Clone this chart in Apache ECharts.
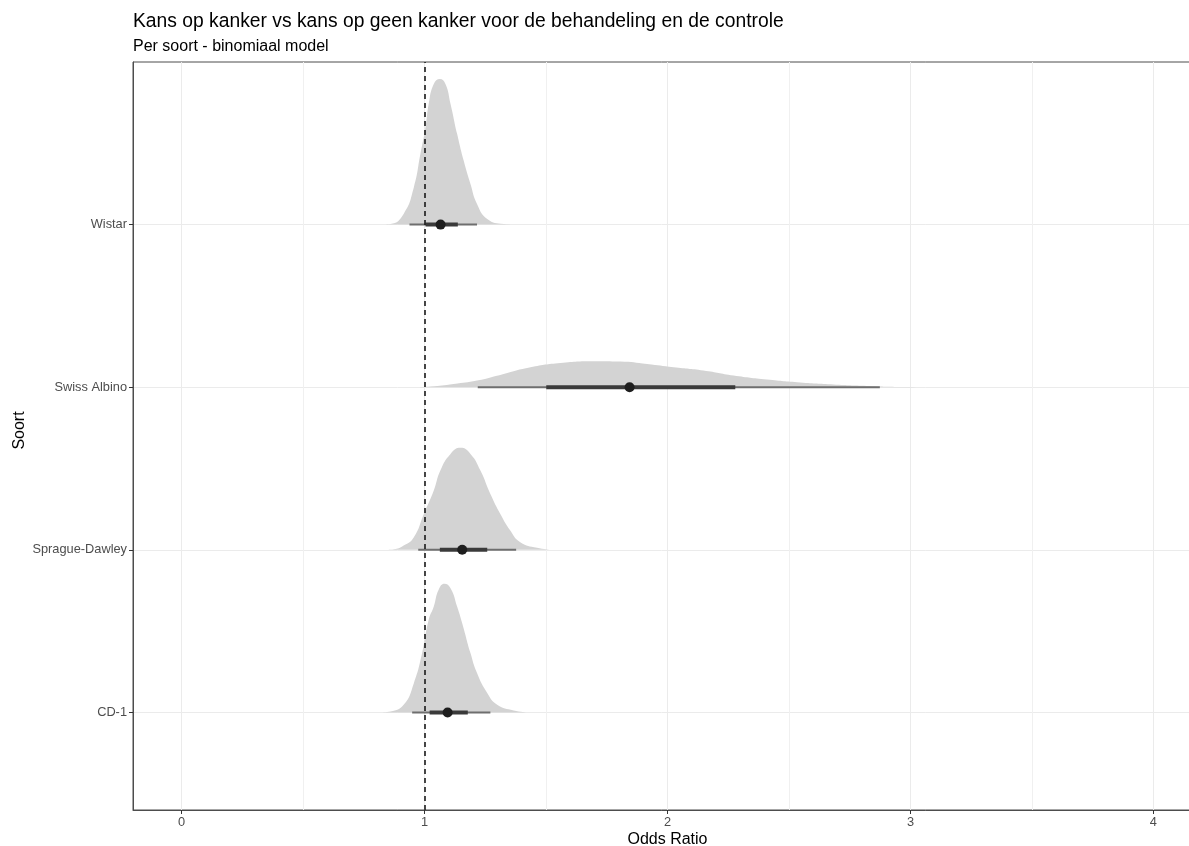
<!DOCTYPE html>
<html><head><meta charset="utf-8">
<script src="https://cdn.jsdelivr.net/npm/echarts@6/dist/echarts.min.js"></script>
<style>html,body{margin:0;padding:0;background:#fff}#c{width:1189px;height:846px}</style>
</head><body><div id="c"></div>
<script>
// Categories (bottom to top) and tick values
const strains = ['CD-1', 'Sprague-Dawley', 'Swiss Albino', 'Wistar'];
const strainPos = [1, 2, 3, 4];
const xTicks = [0, 1, 2, 3, 4];
const xMinorTicks = [0.5, 1.5, 2.5, 3.5];
const refLine = 1;

// Posterior density of the odds ratio per strain (x = OR, h = slab height)
const cd1X = [0.82, 0.860, 0.914, 0.956, 0.990, 1.017, 1.038, 1.058, 1.082, 1.107, 1.134, 1.155, 1.189, 1.216, 1.258, 1.299, 1.367, 1.422];
const cd1H = [0, 0.006, 0.047, 0.180, 0.365, 0.570, 0.652, 0.755, 0.792, 0.764, 0.652, 0.549, 0.365, 0.242, 0.119, 0.047, 0.012, 0];
const sdX = [0.84, 0.873, 0.914, 0.956, 0.997, 1.038, 1.065, 1.107, 1.148, 1.189, 1.230, 1.271, 1.312, 1.353, 1.394, 1.463, 1.518];
const sdH = [0, 0.003, 0.026, 0.078, 0.221, 0.365, 0.488, 0.590, 0.627, 0.590, 0.488, 0.344, 0.221, 0.119, 0.047, 0.012, 0];
const swissX = [0.98, 1.024, 1.120, 1.216, 1.326, 1.436, 1.559, 1.696, 1.806, 1.916, 2.025, 2.148, 2.272, 2.409, 2.546, 2.683, 2.821, 2.958, 3.204];
const swissH = [0, 0.004, 0.020, 0.041, 0.082, 0.123, 0.149, 0.160, 0.158, 0.143, 0.123, 0.103, 0.072, 0.047, 0.029, 0.017, 0.008, 0.002, 0];
const wistarX = [0.82, 0.860, 0.914, 0.956, 0.983, 1.004, 1.017, 1.038, 1.063, 1.086, 1.107, 1.134, 1.161, 1.189, 1.216, 1.258, 1.326, 1.38];
const wistarH = [0, 0.004, 0.066, 0.229, 0.435, 0.598, 0.742, 0.865, 0.896, 0.865, 0.742, 0.558, 0.394, 0.250, 0.127, 0.035, 0.004, 0];

// Point estimate and intervals (66% thick, 95% thin), order = strains
const pointEst = [1.095, 1.155, 1.844, 1.066];
const thickLo = [1.021, 1.063, 1.501, 1.004];
const thickHi = [1.178, 1.258, 2.279, 1.137];
const thinLo = [0.949, 0.974, 1.219, 0.938];
const thinHi = [1.271, 1.377, 2.874, 1.216];

const densX = [cd1X, sdX, swissX, wistarX];
const densH = [cd1H, sdH, swissH, wistarH];

const FONT = 'Liberation Sans, Arial, sans-serif';

const densitySeries = strains.map((name, i) => ({
  name: name,
  type: 'line',
  xAxisIndex: 0,
  yAxisIndex: 0,
  smooth: 0.5,
  showSymbol: false,
  symbol: 'none',
  silent: true,
  z: 2,
  lineStyle: { width: 0, opacity: 0 },
  areaStyle: { color: '#d3d3d3', opacity: 1, origin: strainPos[i] },
  data: densX[i].map((x, j) => [x, strainPos[i] + densH[i][j]])
}));

const intervalData = strains.map((s, i) => [strainPos[i], pointEst[i], thickLo[i], thickHi[i], thinLo[i], thinHi[i]]);

const intervalSeries = {
  type: 'custom',
  xAxisIndex: 0,
  yAxisIndex: 0,
  z: 4,
  silent: true,
  encode: { x: [1, 2, 3, 4, 5], y: 0 },
  data: intervalData,
  renderItem: function (params, api) {
    const k = api.value(0);
    const p = api.coord([api.value(1), k]);
    const a = api.coord([api.value(2), k]);
    const b = api.coord([api.value(3), k]);
    const c = api.coord([api.value(4), k]);
    const d = api.coord([api.value(5), k]);
    return {
      type: 'group',
      children: [
        { type: 'line', shape: { x1: c[0], y1: c[1], x2: d[0], y2: d[1] }, style: { stroke: '#6e6e6e', lineWidth: 2 } },
        { type: 'line', shape: { x1: a[0], y1: a[1], x2: b[0], y2: b[1] }, style: { stroke: '#3a3a3a', lineWidth: 4 } },
        { type: 'circle', shape: { cx: p[0], cy: p[1], r: 5 }, style: { fill: '#1e1e1e' } }
      ]
    };
  },
  markLine: {
    silent: true,
    symbol: 'none',
    label: { show: false },
    lineStyle: { color: '#1a1a1a', width: 1.6, type: [5, 4] },
    data: [{ xAxis: refLine }]
  }
};

const chart = echarts.init(document.getElementById('c'), null, { renderer: 'canvas' });
chart.setOption({
  animation: false,
  backgroundColor: '#ffffff',
  textStyle: { fontFamily: FONT },
  title: {
    text: 'Kans op kanker vs kans op geen kanker voor de behandeling en de controle',
    subtext: 'Per soort - binomiaal model',
    left: 133,
    top: 11,
    itemGap: 5,
    padding: 0,
    textStyle: { fontFamily: FONT, fontSize: 19.3, fontWeight: 'normal', color: '#000', lineHeight: 22 },
    subtextStyle: { fontFamily: FONT, fontSize: 16, color: '#000', lineHeight: 18 }
  },
  grid: {
    left: 133, top: 62, width: 1069, height: 748,
    outerBoundsMode: 'none',
    show: true, borderColor: '#4d4d4d', borderWidth: 1, backgroundColor: 'transparent',
    containLabel: false
  },
  xAxis: [{
    type: 'value', min: -0.2, max: 4.2,
    position: 'bottom',
    name: 'Odds Ratio', nameLocation: 'middle', nameGap: 22, nameMoveOverlap: false,
    nameTextStyle: { fontFamily: FONT, fontSize: 16, color: '#000' },
    axisLine: { show: true, onZero: false, lineStyle: { color: '#4d4d4d', width: 1 } },
    axisTick: { show: true, length: 4, customValues: xTicks, lineStyle: { color: '#333' } },
    axisLabel: { customValues: xTicks, margin: 6, fontFamily: FONT, fontSize: 12.8, color: '#4d4d4d' },
    splitLine: { show: true, lineStyle: { color: '#ebebeb', width: 1 } }
  }, {
    type: 'value', min: -0.2, max: 4.2,
    position: 'top',
    axisLine: { show: false, onZero: false },
    axisTick: { show: false, customValues: xMinorTicks },
    axisLabel: { show: false, customValues: xMinorTicks },
    splitLine: { show: true, lineStyle: { color: '#f0f0f0', width: 1 } }
  }],
  yAxis: {
    type: 'value', min: 0.4, max: 5.0,
    name: 'Soort', nameLocation: 'middle', nameGap: 105, nameRotate: 90, nameMoveOverlap: false,
    nameTextStyle: { fontFamily: FONT, fontSize: 16, color: '#000', padding: [0, 0, 0, 11] },
    axisLine: { show: true, onZero: false, lineStyle: { color: '#4d4d4d', width: 1 } },
    axisTick: { show: true, length: 4, customValues: strainPos, lineStyle: { color: '#333' } },
    axisLabel: {
      customValues: strainPos, margin: 6, fontFamily: FONT, fontSize: 12.8, color: '#4d4d4d',
      formatter: function (v) { const i = strainPos.indexOf(Math.round(v)); return i >= 0 ? strains[i] : ''; }
    },
    splitLine: { show: true, lineStyle: { color: '#ebebeb', width: 1 } }
  },
  series: densitySeries.concat([intervalSeries])
});
</script>
</body></html>
